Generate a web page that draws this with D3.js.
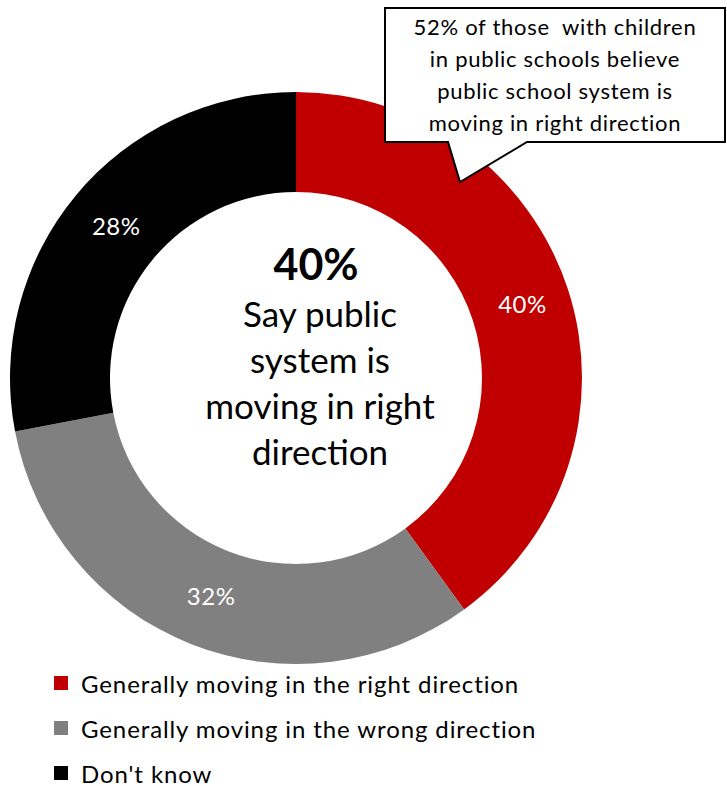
<!DOCTYPE html>
<html>
<head>
<meta charset="utf-8">
<script src="https://cdn.jsdelivr.net/npm/d3@7"></script>
<style>
  body { margin: 0; background: #fff; }
  svg text { font-family: Lato, "Open Sans", sans-serif; }
</style>
</head>
<body>
<div id="chart"></div>
<script>
// data
var categories = ["Generally moving in the right direction", "Generally moving in the wrong direction", "Don't know"];
var values = [40, 32, 28];
var colors = ["#C00000", "#808080", "#000000"];
var centerLines = ["Say public", "system is", "moving in right", "direction"];
var centerValue = "40%";
var calloutLines = ["52% of those  with children", "in public schools believe", "public school system is", "moving in right direction"];

var width = 727, height = 786;
var cx = 296, cy = 378;
var outerR = 286, innerR = 186;

var svg = d3.select("#chart").append("svg")
    .attr("width", width)
    .attr("height", height);

var pie = d3.pie().sort(null).value(d => d);
var arc = d3.arc().innerRadius(innerR).outerRadius(outerR);
var labelArc = d3.arc().innerRadius((innerR + outerR) / 2).outerRadius((innerR + outerR) / 2);

var g = svg.append("g").attr("transform", `translate(${cx},${cy})`);

var slices = pie(values);

g.selectAll("path.slice")
    .data(slices)
    .enter().append("path")
    .attr("class", "slice")
    .attr("d", arc)
    .attr("fill", (d, i) => colors[i]);

// percentage labels in the ring
g.selectAll("text.pct")
    .data(slices)
    .enter().append("text")
    .attr("class", "pct")
    .attr("transform", d => {
        const c = labelArc.centroid(d);
        return `translate(${c[0] + 2},${c[1] - 2})`;
    })
    .attr("text-anchor", "middle")
    .attr("dominant-baseline", "central")
    .attr("fill", "#fff")
    .attr("font-size", "24px")
    .style("letter-spacing", "0.5px")
    .text(d => d.value + "%");

// centre text (sits a bit right of the ring centre, like the original)
g.append("text")
    .attr("x", 20)
    .attr("y", -98)
    .attr("text-anchor", "middle")
    .attr("font-size", "43px")
    .attr("font-weight", "bold")
    .attr("fill", "#000")
    .text(centerValue);

g.selectAll("text.center")
    .data(centerLines)
    .enter().append("text")
    .attr("class", "center")
    .attr("x", 24)
    .attr("y", (d, i) => -51 + i * 46)
    .attr("text-anchor", "middle")
    .attr("font-size", "35px")
    .attr("fill", "#000")
    .text(d => d);

// callout box with pointer
var bx0 = 385, by0 = 8, bx1 = 725, by1 = 142;
var callout = svg.append("g");
callout.append("path")
    .attr("d", `M${bx0},${by0} L${bx1},${by0} L${bx1},${by1} L527,${by1} L460,182 L448,${by1} L${bx0},${by1} Z`)
    .attr("fill", "#fff")
    .attr("stroke", "#000")
    .attr("stroke-width", 2);

callout.selectAll("text")
    .data(calloutLines)
    .enter().append("text")
    .attr("x", (bx0 + bx1) / 2)
    .attr("y", (d, i) => 35 + i * 32)
    .attr("text-anchor", "middle")
    .attr("font-size", "22px")
    .attr("fill", "#000")
    .style("letter-spacing", "0.7px")
    .style("white-space", "pre")
    .text(d => d);

// legend
var legend = svg.append("g").attr("transform", "translate(54,0)");
var rows = legend.selectAll("g")
    .data(categories)
    .enter().append("g")
    .attr("transform", (d, i) => `translate(0,${683 + i * 45})`);

rows.append("rect")
    .attr("x", 0)
    .attr("y", -7)
    .attr("width", 14)
    .attr("height", 14)
    .attr("fill", (d, i) => colors[i]);

rows.append("text")
    .attr("x", 27)
    .attr("y", 0)
    .attr("dominant-baseline", "central")
    .attr("font-size", "24px")
    .attr("fill", "#000")
    .style("letter-spacing", "0.9px")
    .text(d => d);
</script>
</body>
</html>
